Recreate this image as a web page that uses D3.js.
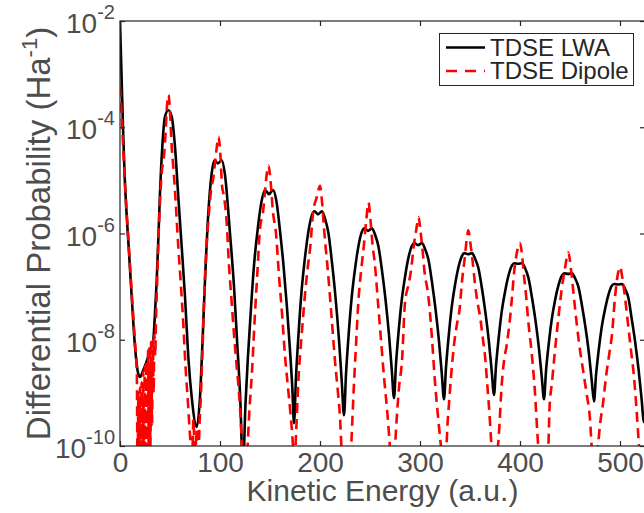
<!DOCTYPE html>
<html>
<head>
<meta charset="utf-8">
<script src="https://cdn.jsdelivr.net/npm/d3@7"></script>
<style>
  body { margin: 0; background: #fff; }
  svg { display: block; font-family: "Liberation Sans", Arial, Helvetica, sans-serif; }
</style>
</head>
<body>
<div id="chart"></div>
<script>
// kinetic energy (a.u.) and log10 of the differential probability
var lwaE = [0, 1.5, 3, 4.5, 6.5, 8.5, 11.7, 15, 18, 20, 23.3, 28.3, 31.5, 33.3, 35, 36.7, 38.3, 40, 42.3, 45, 48.3, 51.7, 55, 58.3, 61.7, 65, 68.3, 71.7, 76.7,
  80, 82.3, 85, 88.3, 91.7, 94.3, 98, 101.7, 105, 110, 114, 117, 120, 123,
  125.5, 128, 131, 134, 137.5, 141.5, 145, 149, 153, 156.5, 160, 163.5, 167, 170, 172.3, 174,
  176, 178.5, 181.5, 185, 188.5, 192, 194.5, 198, 202, 205, 208.5, 212, 215.5, 219, 221.8, 224,
  226, 228.5, 231.5, 235, 238.5, 242, 244.5, 248, 252, 255, 258.5, 262, 265.5, 269, 271.8, 274,
  276, 278.5, 281.5, 285, 288.5, 292, 294.5, 298, 302, 305, 308.5, 312, 315.5, 319, 321.8, 324,
  326, 328.5, 331.5, 335, 338.5, 342, 344.5, 348, 352, 355, 358.5, 362, 365.5, 369, 371.8, 374,
  376, 378.5, 381.5, 385, 388.5, 392, 394.5, 398, 402, 405, 408.5, 412, 415.5, 419, 421.8, 424,
  426, 428.5, 431.5, 435, 438.5, 442, 444.5, 448, 452, 455, 458.5, 462, 465.5, 469, 471.8, 474,
  476, 478.5, 481.5, 485, 488.5, 492, 494.5, 498, 502, 505, 508.5, 511.5, 515, 518.5, 521.5, 524, 527];
var lwaExp = [-2.0, -3.0, -4.0, -4.85, -5.6, -6.2, -7.19, -8.13, -8.62, -8.70, -8.57, -8.32, -8.12, -8.0, -7.5, -6.88, -6.12, -5.24, -4.37, -3.80, -3.68, -3.80, -4.37, -5.31, -6.25, -7.19, -8.32, -9.08, -9.64,
  -9.08, -8.13, -6.88, -5.62, -4.87, -4.62, -4.68, -4.62, -4.9, -6.0, -7.0, -8.0, -9.0, -10.4,
  -9.2, -8.3, -7.4, -6.6, -5.95, -5.4, -5.18, -5.26, -5.18, -5.4, -5.95, -6.6, -7.4, -8.2, -8.9, -9.57,
  -8.7, -7.9, -7.1, -6.45, -5.95, -5.65, -5.58, -5.64, -5.58, -5.72, -6.0, -6.55, -7.2, -8.0, -8.8, -9.42,
  -8.65, -7.94, -7.24, -6.67, -6.23, -5.96, -5.9, -5.95, -5.9, -6.02, -6.25, -6.7, -7.24, -7.91, -8.57, -9.1,
  -8.46, -7.87, -7.29, -6.82, -6.45, -6.23, -6.18, -6.22, -6.18, -6.29, -6.5, -6.92, -7.42, -8.03, -8.64, -9.12,
  -8.52, -7.97, -7.42, -6.97, -6.63, -6.42, -6.37, -6.39, -6.37, -6.47, -6.66, -7.04, -7.5, -8.05, -8.61, -9.04,
  -8.49, -8.0, -7.5, -7.1, -6.79, -6.6, -6.56, -6.57, -6.56, -6.65, -6.84, -7.21, -7.64, -8.17, -8.71, -9.12,
  -8.59, -8.12, -7.65, -7.26, -6.97, -6.79, -6.75, -6.76, -6.75, -6.84, -7.01, -7.36, -7.77, -8.27, -8.78, -9.16,
  -8.67, -8.23, -7.79, -7.43, -7.15, -6.98, -6.95, -6.96, -6.95, -7.04, -7.22, -7.58, -8.02, -8.55, -9.1, -9.55, -9.2];

var dipE = [0, 1.5, 3, 4.5, 6.5, 8.5, 12, 15, 16.8,
  17.6, 18.4, 19.2, 20.0, 20.8, 21.6, 22.4, 23.2, 24.0, 24.8, 25.6, 26.4, 27.2, 28.0, 28.8, 29.6, 30.4, 31.2, 32.0, 32.8, 33.6, 34.4, 35.2,
  36, 37, 38.3, 40, 42, 43.5, 45, 47, 48.5, 50, 51.5, 53.3, 55, 58.3, 61, 63.3, 65.5, 68, 70, 72,
  73.5, 75, 76.5, 78, 79.5,
  81, 82.3, 84, 86.7, 89, 91, 93.3, 96, 98.5, 100.5, 102, 104, 106.7, 109, 111.7, 114, 116.7, 119, 121, 123, 125,
  127, 129.5, 132, 135, 137.5, 140, 143, 146, 148.5, 150.5, 153, 156, 159, 162, 165, 168, 170.5, 173, 174.3,
  176, 178.3, 181.7, 185, 188, 190, 193, 197, 200, 202, 204, 208.3, 211.7, 215, 218, 220, 222, 226, 230,
  231.7, 233.3, 236, 238.3, 241.7, 244, 246, 248.5, 250.5, 252.5, 255, 258, 261, 264, 267, 269.5, 272,
  275, 277, 279, 282, 285, 288, 291, 294, 296.5, 298.5, 300.5, 302.5, 305, 307, 309, 311.7, 315, 318.3, 321.5, 324,
  326.5, 327.5, 329, 331, 334, 337, 339.5, 342, 344.5, 346.5, 348.3, 350.5, 352.5, 355, 358, 360, 363, 365, 367.5, 369.5, 371.5, 374.5,
  377.5, 378.8, 381.7, 384, 386.7, 390, 392, 394, 397, 400, 402, 404, 406, 408, 411.7, 415, 417.5, 420, 424,
  428, 429.5, 432, 435, 438.3, 441.7, 445, 448.3, 451.7, 455, 459.3, 463.3, 466.5, 470, 472, 475,
  478, 480, 483, 486, 489, 492, 495, 498, 500, 502.5, 505, 508, 511, 514, 516.5, 519, 521, 525];
var dipExp = [-3.24, -3.7, -4.3, -4.9, -5.55, -6.15, -7.2, -8.05, -8.6,
  -10.5, -9.0, -10.5, -8.9, -10.5, -8.8, -10.5, -8.6, -10.5, -8.5, -10.5, -8.4, -10.5, -8.2, -10.3, -8.1, -10.0, -8.0, -9.6, -8.0, -9.0, -7.9, -8.3,
  -7.6, -7.0, -6.2, -5.4, -4.8, -4.62, -4.3, -3.6, -3.39, -3.7, -4.3, -4.75, -5.2, -6.25, -7.0, -7.7, -8.5, -9.2, -9.8, -10.3,
  -9.5, -10.4, -9.7, -10.4, -9.6,
  -9.0, -8.3, -7.3, -6.2, -5.6, -5.2, -4.95, -4.5, -4.18, -4.55, -5.1, -5.3, -5.8, -6.6, -7.3, -7.9, -8.5, -9.0, -9.6, -10.4, -10.6,
  -10.2, -9.3, -8.6, -7.5, -6.7, -5.9, -5.6, -5.0, -4.72, -5.0, -5.6, -6.0, -6.8, -7.5, -8.3, -8.9, -9.4, -10.0, -10.5,
  -9.8, -8.8, -7.9, -7.15, -6.6, -6.3, -5.62, -5.3, -5.1, -5.4, -5.9, -6.8, -7.6, -8.4, -9.0, -9.45, -10.2, -10.6, -10.4,
  -9.8, -9.1, -8.1, -7.3, -6.6, -6.2, -5.8, -5.42, -5.75, -6.2, -6.6, -7.3, -8.0, -8.7, -9.3, -9.9, -10.5,
  -10.0, -9.4, -8.9, -8.4, -7.3, -7.0, -6.7, -6.2, -5.9, -5.69, -5.95, -6.3, -6.8, -7.0, -7.3, -7.9, -8.8, -9.5, -10.1, -10.5,
  -10.0, -9.6, -9.2, -8.7, -8.1, -7.7, -7.44, -6.9, -6.5, -6.15, -5.94, -6.2, -6.5, -6.95, -7.35, -7.55, -8.0, -8.3, -8.9, -9.4, -10.0, -10.5,
  -10.1, -9.8, -8.85, -8.4, -8.1, -7.6, -7.2, -6.75, -6.35, -6.18, -6.4, -6.8, -7.15, -7.6, -8.25, -9.0, -9.8, -10.4, -10.6,
  -10.2, -9.3, -8.8, -8.2, -7.6, -7.05, -6.65, -6.36, -6.8, -7.4, -8.1, -8.6, -9.0, -9.5, -10.1, -10.5,
  -10.0, -9.6, -9.2, -8.7, -8.3, -7.9, -7.2, -6.75, -6.63, -6.85, -7.2, -7.7, -8.2, -8.7, -9.3, -10.0, -10.5, -10.6];

var seriesNames = ["TDSE LWA", "TDSE Dipole"];
var xTicks = [0, 100, 200, 300, 400, 500];
var yTickExps = [-2, -4, -6, -8, -10];

var width = 644, height = 513;
var plot = { left: 120, top: 21, right: 645, bottom: 446 };

var x = d3.scaleLinear().domain([0, 525]).range([plot.left, plot.right]);
var y = d3.scaleLog().domain([1e-10, 1e-2]).range([plot.bottom, plot.top]);

var svg = d3.select("#chart").append("svg")
  .attr("width", width)
  .attr("height", height);

svg.append("defs").append("clipPath").attr("id", "clip")
  .append("rect")
  .attr("x", plot.left).attr("y", plot.top)
  .attr("width", plot.right - plot.left).attr("height", plot.bottom - plot.top);

function toPoints(es, exps) {
  return es.map(function(e, i) { return { e: e, p: Math.pow(10, exps[i]) }; });
}

var line = d3.line()
  .x(function(d) { return x(d.e); })
  .y(function(d) { return y(d.p); })
  .curve(d3.curveMonotoneX);

var lines = svg.append("g").attr("clip-path", "url(#clip)");

lines.append("path")
  .datum(toPoints(lwaE, lwaExp))
  .attr("fill", "none")
  .attr("stroke", "#000")
  .attr("stroke-width", 2.6)
  .attr("stroke-linejoin", "round")
  .attr("d", line);

lines.append("path")
  .datum(toPoints(dipE, dipExp))
  .attr("fill", "none")
  .attr("stroke", "#ff0000")
  .attr("stroke-width", 2.6)
  .attr("stroke-dasharray", "10,6")
  .attr("d", line);

// axes box and inward ticks
var axisColor = "#262626", labelColor = "#4d4d4d";

svg.append("rect")
  .attr("x", plot.left).attr("y", plot.top)
  .attr("width", plot.right - plot.left).attr("height", plot.bottom - plot.top)
  .attr("fill", "none").attr("stroke", axisColor).attr("stroke-width", 1.2);

var yTicks = yTickExps.map(function(k) { return Math.pow(10, k); });

function styleAxis(g) {
  g.select(".domain").remove();
  g.selectAll(".tick line").attr("stroke", axisColor).attr("stroke-width", 1.2);
}

svg.append("g")
  .attr("transform", "translate(0," + plot.bottom + ")")
  .call(d3.axisBottom(x).tickValues(xTicks).tickSize(-5).tickPadding(6).tickFormat(d3.format("d")))
  .call(styleAxis)
  .selectAll("text")
  .attr("fill", labelColor)
  .style("font-size", "28px")
  .attr("font-family", null);

svg.append("g")
  .attr("transform", "translate(0," + plot.top + ")")
  .call(d3.axisTop(x).tickValues(xTicks).tickSize(-5).tickFormat(""))
  .call(styleAxis);

svg.append("g")
  .attr("transform", "translate(" + plot.left + ",0)")
  .call(d3.axisLeft(y).tickValues(yTicks).tickSize(-5).tickFormat(""))
  .call(styleAxis);

svg.append("g")
  .attr("transform", "translate(" + plot.right + ",0)")
  .call(d3.axisRight(y).tickValues(yTicks).tickSize(-5).tickFormat(""))
  .call(styleAxis);

// y tick labels as 10 with a superscript exponent
var yLab = svg.append("g").selectAll("text")
  .data(yTickExps)
  .enter().append("text")
  .attr("x", plot.left - 5)
  .attr("y", function(k) { return y(Math.pow(10, k)) + 12; })
  .attr("text-anchor", "end")
  .attr("fill", labelColor)
  .style("font-size", "28px");
yLab.append("tspan").text("10");
yLab.append("tspan")
  .attr("dy", -14)
  .style("font-size", "20px")
  .text(function(k) { return "-" + Math.abs(k); });

// axis titles
svg.append("text")
  .attr("x", (plot.left + plot.right) / 2)
  .attr("y", 501)
  .attr("text-anchor", "middle")
  .attr("fill", labelColor)
  .style("font-size", "30px")
  .text("Kinetic Energy (a.u.)");

var yt = svg.append("text")
  .attr("transform", "translate(50," + ((plot.top + plot.bottom) / 2) + ") rotate(-90)")
  .attr("text-anchor", "middle")
  .attr("fill", labelColor)
  .style("font-size", "33px");
yt.append("tspan").text("Differential Probability (Ha");
yt.append("tspan").attr("dy", -13).style("font-size", "22px").text("-1");
yt.append("tspan").attr("dy", 13).text(")");

// legend
var leg = svg.append("g");
leg.append("rect")
  .attr("x", 439.5).attr("y", 33.5).attr("width", 194).attr("height", 52)
  .attr("fill", "#fff").attr("stroke", axisColor).attr("stroke-width", 1);

var legRows = [
  { name: seriesNames[0], color: "#000", dash: null, y: 47.5 },
  { name: seriesNames[1], color: "#ff0000", dash: "11,8", y: 71 }
];
legRows.forEach(function(r) {
  leg.append("line")
    .attr("x1", 446).attr("x2", 485).attr("y1", r.y).attr("y2", r.y)
    .attr("stroke", r.color).attr("stroke-width", 2.6)
    .attr("stroke-dasharray", r.dash);
  leg.append("text")
    .attr("x", 490).attr("y", r.y + 8)
    .attr("fill", "#262626")
    .style("font-size", "24px")
    .text(r.name);
});
</script>
</body>
</html>
